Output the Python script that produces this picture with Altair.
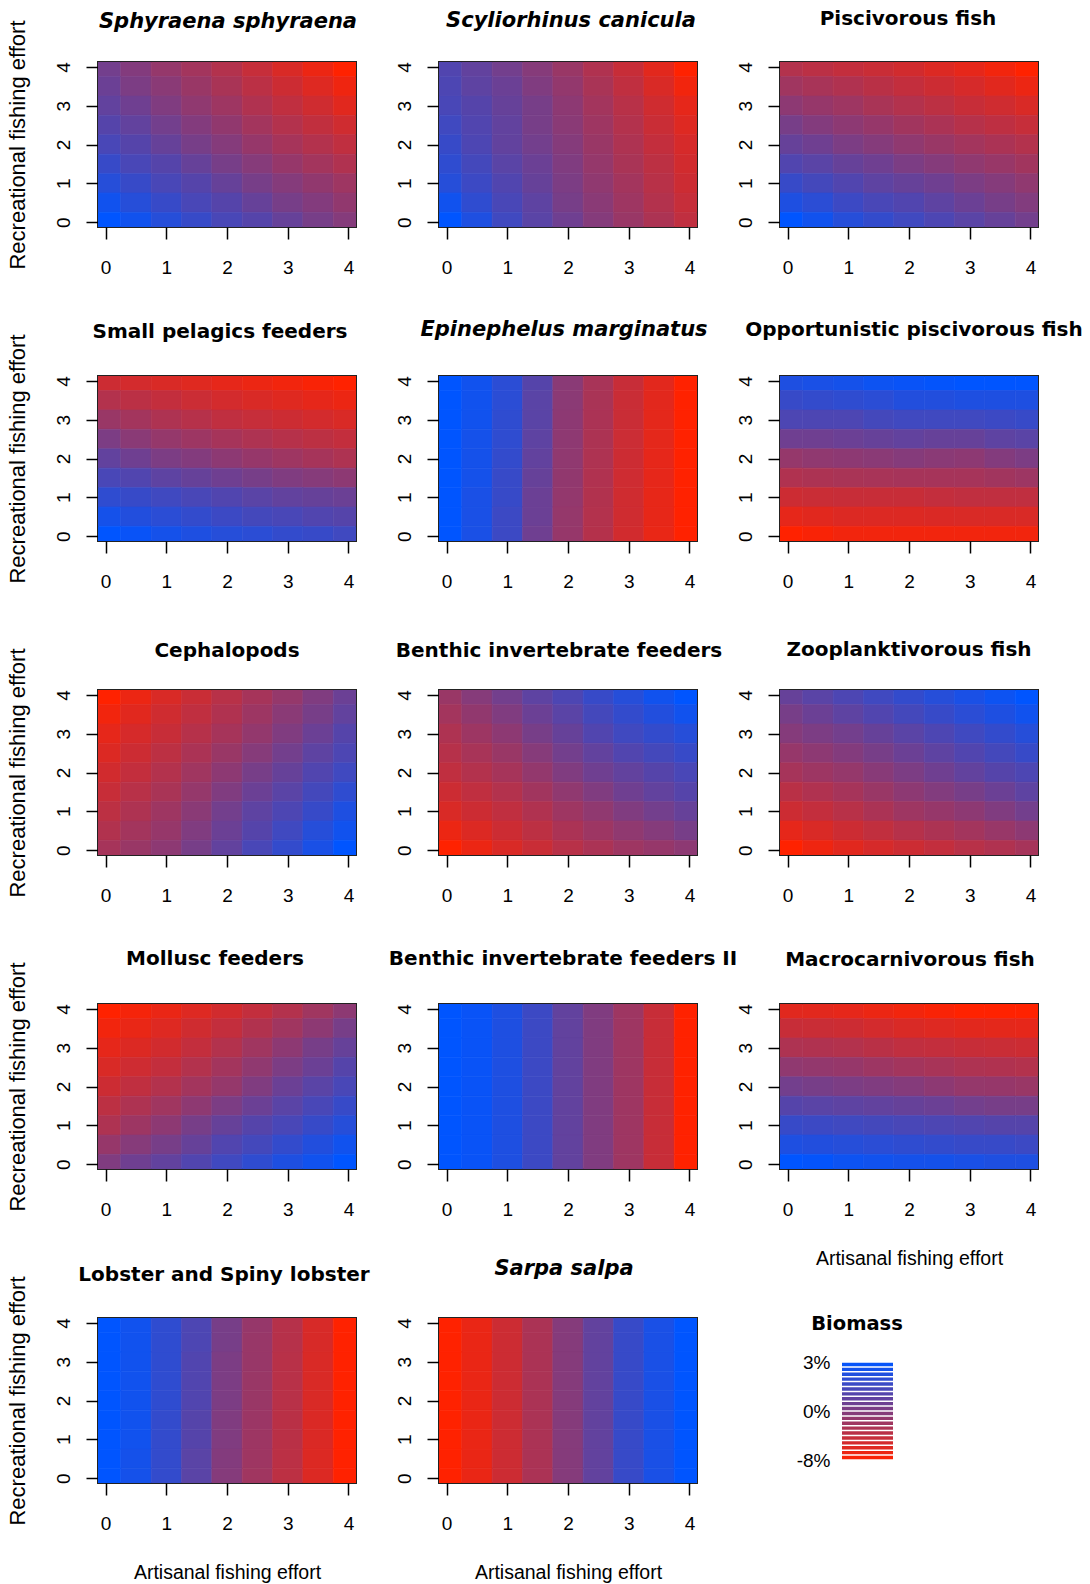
import altair as alt
import pandas as pd

# ---------------- data (biomass change, %) ----------------
X_LEVELS = [0, 0.5, 1, 1.5, 2, 2.5, 3, 3.5, 4]          # artisanal effort
Y_LEVELS = [4, 3.5, 3, 2.5, 2, 1.5, 1, 0.5, 0]          # recreational effort (rows, top -> bottom)
TICKS = [0, 1, 2, 3, 4]

SPHYRAENA = [
    [0.3, -0.2, -1.3, -2.2, -3.2, -4.4, -5.6, -6.8, -8.0],
    [0.5, 0.1, -0.6, -1.6, -2.6, -3.7, -4.8, -5.9, -7.0],
    [0.7, 0.4, 0.0, -1.0, -1.9, -3.0, -4.0, -5.0, -6.1],
    [1.0, 0.7, 0.3, -0.2, -1.1, -2.2, -3.2, -4.1, -5.0],
    [1.3, 1.0, 0.6, 0.2, -0.3, -1.4, -2.4, -3.2, -4.0],
    [1.7, 1.3, 1.0, 0.6, 0.2, -0.4, -1.4, -2.2, -3.0],
    [2.1, 1.7, 1.3, 1.0, 0.6, 0.2, -0.3, -1.1, -1.9],
    [2.6, 2.1, 1.7, 1.3, 1.0, 0.6, 0.2, -0.2, -1.1],
    [3.0, 2.6, 2.1, 1.7, 1.3, 1.0, 0.6, 0.2, -0.3],
]
SCYLIORHINUS = [
    [1.1, 0.7, 0.3, -0.4, -1.6, -3.0, -4.5, -6.2, -8.0],
    [1.2, 0.8, 0.5, 0.0, -1.2, -2.6, -4.0, -5.6, -7.2],
    [1.3, 1.0, 0.6, 0.2, -0.8, -2.2, -3.5, -5.0, -6.4],
    [1.5, 1.1, 0.7, 0.2, -0.6, -1.9, -3.2, -4.6, -5.9],
    [1.7, 1.2, 0.7, 0.3, -0.3, -1.6, -2.9, -4.2, -5.4],
    [1.9, 1.4, 0.9, 0.5, 0.0, -1.3, -2.6, -3.8, -5.1],
    [2.1, 1.6, 1.1, 0.6, 0.1, -1.0, -2.2, -3.5, -4.8],
    [2.6, 1.9, 1.3, 0.8, 0.2, -0.6, -1.9, -3.2, -4.4],
    [3.0, 2.3, 1.5, 0.9, 0.4, -0.3, -1.6, -2.8, -4.0],
]
PISCIVOROUS = [
    [-3.2, -3.7, -4.2, -4.6, -5.1, -5.8, -6.4, -7.2, -8.0],
    [-2.0, -2.5, -3.0, -3.6, -4.2, -4.8, -5.4, -6.1, -6.8],
    [-0.8, -1.4, -1.9, -2.6, -3.2, -3.8, -4.5, -5.0, -5.6],
    [0.2, -0.2, -0.8, -1.4, -2.1, -2.7, -3.4, -3.9, -4.4],
    [0.6, 0.4, 0.1, -0.3, -1.0, -1.6, -2.2, -2.7, -3.2],
    [1.1, 0.9, 0.6, 0.4, 0.1, -0.3, -1.0, -1.5, -2.1],
    [1.7, 1.4, 1.1, 0.8, 0.6, 0.4, 0.1, -0.3, -1.0],
    [2.3, 2.0, 1.6, 1.3, 1.1, 0.8, 0.5, 0.2, -0.1],
    [3.0, 2.6, 2.1, 1.8, 1.5, 1.2, 0.9, 0.6, 0.3],
]
SMALL_PELAGICS = [
    [-4.8, -5.2, -5.6, -6.0, -6.4, -6.8, -7.2, -7.6, -8.0],
    [-3.2, -3.7, -4.2, -4.7, -5.2, -5.6, -6.0, -6.4, -6.8],
    [-1.6, -2.2, -2.9, -3.4, -4.0, -4.4, -4.8, -5.2, -5.6],
    [0.1, -0.6, -1.3, -1.8, -2.4, -2.9, -3.4, -3.8, -4.2],
    [0.7, 0.4, 0.1, -0.2, -0.8, -1.4, -1.9, -2.4, -2.9],
    [1.3, 1.1, 0.8, 0.6, 0.4, 0.2, 0.0, -0.4, -0.8],
    [1.9, 1.7, 1.5, 1.3, 1.1, 0.9, 0.7, 0.6, 0.5],
    [2.5, 2.2, 2.0, 1.8, 1.6, 1.4, 1.3, 1.1, 1.0],
    [3.0, 2.8, 2.5, 2.3, 2.1, 2.0, 1.8, 1.7, 1.5],
]
EPINEPHELUS = [
    [3.0, 2.6, 2.0, 1.0, -0.6, -2.5, -4.5, -6.2, -8.0],
    [3.0, 2.6, 2.0, 0.9, -0.7, -2.6, -4.6, -6.2, -8.0],
    [3.0, 2.6, 1.9, 0.9, -0.8, -2.7, -4.6, -6.3, -8.0],
    [3.0, 2.5, 1.9, 0.8, -0.9, -2.8, -4.7, -6.3, -8.0],
    [3.0, 2.5, 1.8, 0.7, -1.0, -2.9, -4.8, -6.4, -8.0],
    [3.0, 2.5, 1.7, 0.6, -1.1, -3.0, -4.9, -6.4, -8.0],
    [3.0, 2.4, 1.7, 0.5, -1.2, -3.1, -5.0, -6.5, -8.0],
    [3.0, 2.4, 1.6, 0.5, -1.3, -3.2, -5.0, -6.5, -8.0],
    [3.0, 2.4, 1.6, 0.4, -1.4, -3.3, -5.1, -6.6, -8.0],
]
OPPORTUNISTIC = [
    [2.3, 2.4, 2.5, 2.7, 2.8, 2.9, 3.0, 3.0, 3.0],
    [1.7, 1.8, 1.9, 2.0, 2.2, 2.2, 2.3, 2.3, 2.3],
    [1.2, 1.2, 1.2, 1.4, 1.5, 1.5, 1.5, 1.6, 1.7],
    [0.4, 0.4, 0.5, 0.6, 0.7, 0.6, 0.6, 0.8, 0.9],
    [-1.3, -1.0, -0.8, -0.6, -0.3, -0.6, -0.8, -0.2, 0.1],
    [-3.0, -2.8, -2.6, -2.5, -2.4, -2.4, -2.4, -2.1, -1.8],
    [-4.8, -4.6, -4.5, -4.5, -4.5, -4.2, -4.0, -4.0, -4.0],
    [-6.4, -6.1, -5.8, -5.8, -5.8, -5.7, -5.6, -5.6, -5.6],
    [-8.0, -7.6, -7.2, -7.2, -7.2, -7.2, -7.2, -7.2, -7.2],
]
CEPHALOPODS = [
    [-8.0, -6.8, -5.6, -4.6, -3.5, -2.4, -1.3, 0.0, 0.5],
    [-7.2, -6.1, -5.0, -4.0, -3.0, -1.8, -0.6, 0.2, 0.7],
    [-6.4, -5.4, -4.5, -3.4, -2.4, -1.2, 0.0, 0.5, 1.0],
    [-5.8, -4.8, -3.8, -2.7, -1.6, -0.4, 0.3, 0.8, 1.2],
    [-5.1, -4.2, -3.2, -2.0, -0.8, 0.2, 0.6, 1.1, 1.5],
    [-4.5, -3.5, -2.6, -1.3, 0.0, 0.5, 0.9, 1.4, 1.9],
    [-3.8, -2.9, -1.9, -0.6, 0.3, 0.8, 1.2, 1.7, 2.3],
    [-3.1, -2.2, -1.4, 0.0, 0.5, 1.0, 1.5, 2.1, 2.6],
    [-2.4, -1.6, -0.8, 0.2, 0.7, 1.3, 1.8, 2.4, 3.0],
]
BENTHIC = [
    [-1.6, -0.4, 0.3, 0.8, 1.2, 1.7, 2.1, 2.6, 3.0],
    [-2.2, -1.1, 0.0, 0.5, 0.9, 1.4, 1.8, 2.2, 2.6],
    [-2.9, -1.8, -0.8, 0.2, 0.6, 1.1, 1.5, 1.8, 2.1],
    [-3.4, -2.5, -1.6, -0.4, 0.3, 0.7, 1.1, 1.4, 1.7],
    [-4.0, -3.2, -2.4, -1.2, 0.0, 0.4, 0.7, 1.0, 1.3],
    [-4.8, -4.0, -3.2, -2.1, -1.0, 0.0, 0.4, 0.7, 1.0],
    [-5.6, -4.8, -4.0, -3.0, -1.9, -1.0, 0.0, 0.3, 0.6],
    [-6.8, -5.8, -4.8, -3.8, -2.7, -1.8, -1.0, -0.3, 0.2],
    [-8.0, -6.8, -5.6, -4.6, -3.5, -2.7, -1.9, -1.4, -0.8],
]
ZOOPLANKTIVOROUS = [
    [0.6, 0.9, 1.2, 1.5, 1.8, 2.1, 2.4, 2.7, 3.0],
    [0.2, 0.5, 0.8, 1.1, 1.4, 1.7, 2.0, 2.3, 2.6],
    [-0.3, 0.1, 0.3, 0.6, 0.9, 1.2, 1.5, 1.8, 2.1],
    [-1.4, -0.8, -0.2, 0.2, 0.5, 0.8, 1.1, 1.4, 1.7],
    [-2.4, -1.8, -1.3, -0.5, 0.1, 0.4, 0.7, 1.0, 1.2],
    [-3.6, -3.0, -2.4, -1.6, -0.8, -0.1, 0.2, 0.5, 0.8],
    [-4.8, -4.2, -3.5, -2.7, -1.9, -1.4, -0.8, 0.0, 0.3],
    [-6.4, -5.6, -4.8, -4.1, -3.4, -2.8, -2.2, -1.5, -0.8],
    [-8.0, -7.0, -6.1, -5.4, -4.8, -4.2, -3.5, -3.0, -2.4],
]
MOLLUSC = [
    [-8.0, -7.4, -6.7, -5.9, -5.1, -4.2, -3.2, -2.0, -0.8],
    [-7.2, -6.6, -5.9, -5.0, -4.2, -3.1, -2.0, -0.8, 0.2],
    [-6.4, -5.8, -5.1, -4.2, -3.2, -2.0, -0.8, 0.2, 0.6],
    [-5.6, -4.9, -4.2, -3.2, -2.2, -1.0, 0.1, 0.5, 1.0],
    [-4.8, -4.0, -3.2, -2.2, -1.3, 0.0, 0.5, 0.9, 1.3],
    [-3.8, -2.9, -2.0, -0.9, 0.1, 0.5, 0.9, 1.3, 1.7],
    [-2.9, -1.8, -0.8, 0.2, 0.6, 1.0, 1.3, 1.7, 2.1],
    [-1.4, -0.4, 0.2, 0.6, 1.1, 1.4, 1.8, 2.2, 2.6],
    [0.0, 0.4, 0.7, 1.1, 1.5, 1.9, 2.3, 2.6, 3.0],
]
BENTHIC_II = [
    [3.0, 2.8, 2.3, 1.6, 0.7, 0.0, -1.9, -4.5, -8.0],
    [3.0, 2.8, 2.3, 1.6, 0.7, 0.0, -1.9, -4.5, -8.0],
    [3.0, 2.8, 2.3, 1.6, 0.7, 0.0, -1.9, -4.5, -8.0],
    [3.0, 2.8, 2.3, 1.6, 0.7, 0.0, -1.9, -4.5, -8.0],
    [3.0, 2.8, 2.3, 1.6, 0.7, 0.0, -1.9, -4.5, -8.0],
    [3.0, 2.8, 2.3, 1.6, 0.7, 0.0, -1.9, -4.5, -8.0],
    [3.0, 2.8, 2.3, 1.6, 0.7, 0.0, -1.9, -4.5, -8.0],
    [3.0, 2.8, 2.3, 1.6, 0.7, 0.0, -1.9, -4.5, -8.0],
    [3.0, 2.8, 2.3, 1.6, 0.7, 0.0, -1.9, -4.5, -8.0],
]
MACROCARNIVOROUS = [
    [-6.1, -6.2, -6.4, -6.8, -7.2, -7.6, -8.0, -8.0, -8.0],
    [-4.5, -4.6, -4.8, -5.2, -5.6, -5.9, -6.2, -6.3, -6.4],
    [-2.9, -3.0, -3.2, -3.6, -4.0, -4.2, -4.5, -4.6, -4.8],
    [-1.0, -1.2, -1.4, -1.8, -2.2, -2.5, -2.9, -3.0, -3.2],
    [0.3, 0.2, 0.1, 0.0, -0.3, -0.8, -1.3, -1.4, -1.6],
    [1.0, 0.9, 0.8, 0.7, 0.6, 0.5, 0.3, 0.2, 0.2],
    [1.7, 1.6, 1.5, 1.4, 1.3, 1.2, 1.1, 1.0, 1.0],
    [2.3, 2.2, 2.1, 2.0, 1.9, 1.8, 1.7, 1.7, 1.6],
    [3.0, 2.9, 2.7, 2.6, 2.5, 2.5, 2.4, 2.3, 2.3],
]
LOBSTER = [
    [3.0, 2.6, 1.9, 1.2, 0.2, -1.4, -3.4, -5.5, -8.0],
    [3.0, 2.6, 1.9, 1.2, 0.2, -1.5, -3.4, -5.5, -8.0],
    [3.0, 2.6, 1.9, 1.1, 0.1, -1.5, -3.5, -5.6, -8.0],
    [3.0, 2.6, 1.9, 1.1, 0.1, -1.6, -3.5, -5.6, -8.0],
    [3.0, 2.6, 1.9, 1.1, 0.1, -1.6, -3.5, -5.6, -8.0],
    [3.0, 2.6, 1.8, 1.0, 0.0, -1.7, -3.6, -5.7, -8.0],
    [3.0, 2.6, 1.8, 1.0, 0.0, -1.8, -3.6, -5.7, -8.0],
    [3.0, 2.5, 1.8, 0.9, -0.2, -1.9, -3.7, -5.8, -8.0],
    [3.0, 2.5, 1.8, 0.9, -0.3, -2.0, -3.8, -5.8, -8.0],
]
SARPA = [
    [-8.0, -6.7, -4.8, -2.7, -0.3, 0.7, 1.7, 2.4, 3.0],
    [-8.0, -6.7, -4.8, -2.7, -0.3, 0.7, 1.7, 2.4, 3.0],
    [-8.0, -6.7, -4.8, -2.7, -0.3, 0.7, 1.7, 2.4, 3.0],
    [-8.0, -6.7, -4.8, -2.7, -0.3, 0.7, 1.7, 2.4, 3.0],
    [-8.0, -6.7, -4.8, -2.7, -0.3, 0.7, 1.7, 2.4, 3.0],
    [-8.0, -6.7, -4.8, -2.7, -0.3, 0.7, 1.7, 2.4, 3.0],
    [-8.0, -6.7, -4.8, -2.7, -0.3, 0.7, 1.7, 2.4, 3.0],
    [-8.0, -6.7, -4.8, -2.7, -0.3, 0.7, 1.7, 2.4, 3.0],
    [-8.0, -6.7, -4.8, -2.7, -0.3, 0.7, 1.7, 2.4, 3.0],
]

TITLES = [
    "Sphyraena sphyraena", "Scyliorhinus canicula", "Piscivorous fish",
    "Small pelagics feeders", "Epinephelus marginatus", "Opportunistic piscivorous fish",
    "Cephalopods", "Benthic invertebrate feeders", "Zooplanktivorous fish",
    "Mollusc feeders", "Benthic invertebrate feeders II", "Macrocarnivorous fish",
    "Lobster and Spiny lobster", "Sarpa salpa",
]
ITALIC = [True, True, False, False, True, False, False, False, False,
          False, False, False, False, True]
GRIDS = [SPHYRAENA, SCYLIORHINUS, PISCIVOROUS, SMALL_PELAGICS, EPINEPHELUS,
         OPPORTUNISTIC, CEPHALOPODS, BENTHIC, ZOOPLANKTIVOROUS, MOLLUSC,
         BENTHIC_II, MACROCARNIVOROUS, LOBSTER, SARPA]

LEGEND_LEVELS = [2.85, 2.55, 2.25, 1.95, 1.65, 1.35, 1.05, 0.75, 0.45, 0.15,
                 -0.4, -1.2, -2.0, -2.8, -3.6, -4.4, -5.2, -6.0, -6.8, -7.6]
LEGEND_TICKS = [3, 0, -8]

# ---------------- styles / layout ----------------
RED, MID, BLUE = "#ff2200", "#803c80", "#0055ff"
COLOR_SCALE = alt.Scale(domain=[-8, 0, 3], range=[RED, MID, BLUE], interpolate="rgb")
HALF = 0.25
PW, PH = 258, 165
TITLE_GAP = [41, 41, 44, 46, 46, 47, 41, 40, 41, 47, 46, 45, 45, 49]
TITLE_DX = [1, 3, -1, -7, -4, 5, 0, -9, 0, -12, -5, 1, -3, -4]
TITLE_BASE = 27      # distance from title offset to cap centre
YTITLE_OVERFLOW = 43  # how far the long y title pokes above the plot
X_TITLE_PANELS = {11, 12, 13}
Y_TITLE_PANELS = {0, 3, 6, 9, 12}
AX_FONT = "Liberation Sans"
TITLE_FONT = "DejaVu Sans"


def x_axis(title):
    kw = dict(values=TICKS, format="d", domain=False, grid=False, tickSize=12,
              tickWidth=1.5, tickColor="black", labelFont=AX_FONT, labelFontSize=19,
              labelColor="black", labelPadding=19, labelFlush=False,
              titleFont=AX_FONT, titleFontSize=19.5, titleFontWeight="normal",
              titleColor="black", titlePadding=30)
    return alt.Axis(title=title, **kw)


def y_axis(title):
    kw = dict(values=TICKS, format="d", domain=False, grid=False, tickSize=12,
              tickWidth=1.5, tickColor="black", labelFont=AX_FONT, labelFontSize=19,
              labelColor="black", labelAngle=270, labelAlign="center",
              labelBaseline="bottom", labelPadding=13, labelFlush=False,
              titleFont=AX_FONT, titleFontSize=22, titleFontWeight="normal",
              titleColor="black", titlePadding=25)
    return alt.Axis(title=title, **kw)


def panel(i):
    grid = GRIDS[i]
    rows = []
    for r, yv in enumerate(Y_LEVELS):
        for c, xv in enumerate(X_LEVELS):
            rows.append({"x_lo": xv - HALF, "x_hi": xv + HALF,
                         "y_lo": yv - HALF, "y_hi": yv + HALF,
                         "value": grid[r][c]})
    df = pd.DataFrame(rows)
    dom = alt.Scale(domain=[-0.125, 4.125], nice=False, zero=False)
    off = TITLE_GAP[i] - TITLE_BASE - (YTITLE_OVERFLOW if i in Y_TITLE_PANELS else 0)
    title = alt.TitleParams(
        TITLES[i], font=TITLE_FONT, fontSize=21 if ITALIC[i] else 20,
        fontWeight="bold", fontStyle="italic" if ITALIC[i] else "normal",
        color="black", baseline="alphabetic", offset=off,
        dx=TITLE_DX[i], frame="group", anchor="middle")
    return alt.Chart(df).mark_rect(clip=True, strokeWidth=0.6).encode(
        x=alt.X("x_lo:Q", scale=dom,
                axis=x_axis("Artisanal fishing effort" if i in X_TITLE_PANELS else None)),
        x2="x_hi:Q",
        y=alt.Y("y_lo:Q", scale=dom,
                axis=y_axis("Recreational fishing effort" if i in Y_TITLE_PANELS else None)),
        y2="y_hi:Q",
        color=alt.Color("value:Q", scale=COLOR_SCALE, legend=None),
        stroke=alt.Stroke("value:Q", scale=COLOR_SCALE, legend=None),
    ).properties(width=PW, height=PH, title=title)


panels = [panel(i) for i in range(len(TITLES))]

legend_df = pd.DataFrame({"value": LEGEND_LEVELS})
legend_chart = alt.Chart(legend_df).mark_rule(strokeWidth=3.4).encode(
    x=alt.value(62), x2=alt.value(113),
    y=alt.Y("value:Q", scale=alt.Scale(domain=[-8, 0, 3], range=[142, 93, 44]),
            axis=alt.Axis(values=LEGEND_TICKS, labelExpr="datum.value + '%'",
                          ticks=False, domain=False, grid=False, offset=-62,
                          labelPadding=12, labelAlign="right", labelBaseline="middle",
                          labelAngle=0, labelFont=AX_FONT, labelFontSize=19,
                          labelColor="black", title=None)),
    color=alt.Color("value:Q", scale=COLOR_SCALE, legend=None),
).properties(
    width=PW, height=PH,
    view=alt.ViewBackground(stroke="transparent"),
    title=alt.TitleParams("Biomass", font=TITLE_FONT, fontSize=19.5, fontWeight="bold",
                          color="black", baseline="alphabetic", offset=-31, dx=-52,
                          frame="group", anchor="middle"),
)

chart = alt.concat(
    *panels, legend_chart, columns=3,
    spacing={"row": 149, "column": 83}, bounds="flush",
).configure_view(
    stroke="#222222", strokeWidth=2
).properties(
    padding={"left": 4, "top": 7, "right": 5, "bottom": 5},
    background="white",
)

chart.save("out.html", embed_options={"renderer": "svg", "actions": False})
